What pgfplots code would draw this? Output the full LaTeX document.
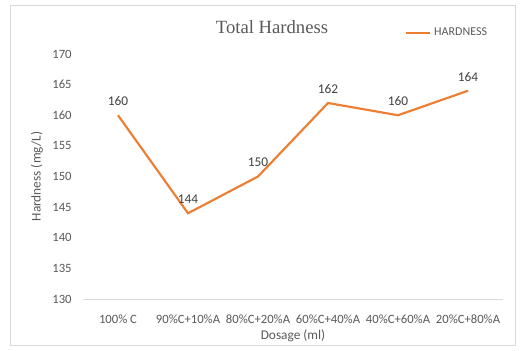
\documentclass[border=0pt]{standalone}
\usepackage{pgfplots}
\pgfplotsset{compat=1.18}
\usepackage{fontspec}
\setmainfont{Carlito}
\newfontfamily\titlefont{Liberation Serif}
\definecolor{lineor}{HTML}{ED7D31}
\definecolor{txtgray}{HTML}{595959}
\definecolor{axgray}{HTML}{D9D9D9}
\begin{document}
\begin{tikzpicture}[x=0.75pt,y=0.75pt]
\useasboundingbox (0,0) rectangle (520,350);
\draw[axgray, line width=0.75pt] (10,5) rectangle (515,344);
\node[font=\titlefont\fontsize{14}{16}\selectfont, text=txtgray] at (272,323) {Total Hardness};
\begin{axis}[
  at={(83pt*0.75,51pt*0.75)}, anchor=south west,
  scale only axis, width=315pt, height=183.75pt,
  xmin=-0.5, xmax=5.5, ymin=130, ymax=170,
  ytick={130,135,...,170},
  xtick={0,1,2,3,4,5},
  xticklabels={100\% C, 90\%C+10\%A, 80\%C+20\%A, 60\%C+40\%A, 40\%C+60\%A, 20\%C+80\%A},
  axis line style={draw=none},
  axis x line*=bottom, axis y line*=left,
  x axis line style={draw=axgray, line width=0.75pt},
  tick style={draw=none},
  ticklabel style={font=\fontsize{9.5}{11}\selectfont, text=txtgray},
  /pgf/number format/assume math mode=true,
  yticklabel style={xshift=-5pt},
  xticklabel style={yshift=-8.5pt},
  xlabel={Dosage (ml)}, ylabel={Hardness (mg/L)},
  label style={font=\fontsize{10}{12}\selectfont, text=txtgray},
  xlabel style={at={(axis description cs:0.5,-0.151)}, anchor=center},
  ylabel style={at={(axis description cs:-0.11,0.5)}, anchor=center},
  nodes near coords,
  every node near coord/.append style={font=\fontsize{10}{12}\selectfont, text=black!75, yshift=3pt},
  legend style={at={(0.767,1.086)}, anchor=west, draw=none, fill=none, font=\fontsize{9}{10}\selectfont, text=txtgray, inner sep=0pt, legend cell align=left},
  legend image code/.code={\draw[#1] (0pt,0pt) -- (18pt,0pt);},
  clip=false,
]
\addplot[color=lineor, line width=1.6pt, mark=none] coordinates {
  (0,160) (1,144) (2,150) (3,162) (4,160) (5,164)
};
\addlegendentry{HARDNESS}
\end{axis}
\end{tikzpicture}
\end{document}
